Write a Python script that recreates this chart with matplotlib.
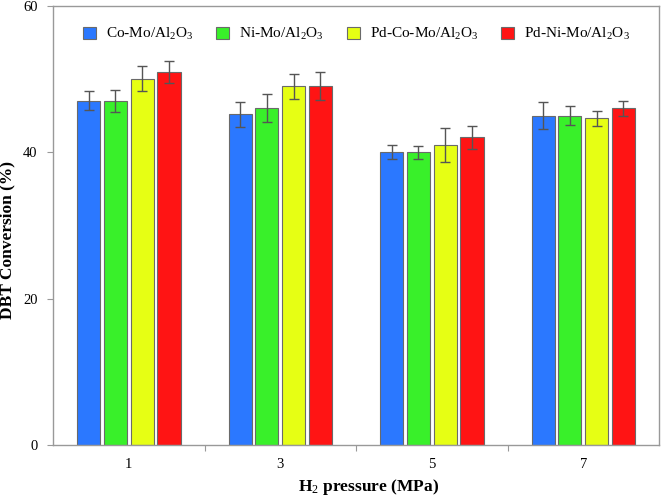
import matplotlib
matplotlib.use("Agg")
import matplotlib.pyplot as plt
import numpy as np

categories = ["1", "3", "5", "7"]
series_names = ["Co-Mo/Al$_2$O$_3$", "Ni-Mo/Al$_2$O$_3$", "Pd-Co-Mo/Al$_2$O$_3$", "Pd-Ni-Mo/Al$_2$O$_3$"]
co_mo = [47.0, 45.2, 40.0, 45.0]
ni_mo = [47.0, 46.0, 40.0, 45.0]
pd_co_mo = [50.0, 49.0, 41.0, 44.6]
pd_ni_mo = [51.0, 49.0, 42.0, 46.0]
co_mo_err = [1.3, 1.7, 1.0, 1.8]
ni_mo_err = [1.5, 1.9, 0.9, 1.3]
pd_co_mo_err = [1.7, 1.7, 2.3, 1.0]
pd_ni_mo_err = [1.5, 1.9, 1.6, 1.0]
colors = ["#2b78ff", "#39f02a", "#e6ff14", "#ff1414"]

plt.rcParams['font.family'] = ['Liberation Serif', 'DejaVu Serif']
plt.rcParams['mathtext.fontset'] = 'custom'
plt.rcParams['mathtext.rm'] = 'Liberation Serif'
plt.rcParams['mathtext.it'] = 'Liberation Serif:italic'
plt.rcParams['mathtext.bf'] = 'Liberation Serif:bold'

fig = plt.figure(figsize=(6.61, 4.96), dpi=100)
ax = fig.add_axes([0.0802, 0.1028, 0.9168, 0.8857])

x = np.arange(len(categories))
vals = [co_mo, ni_mo, pd_co_mo, pd_ni_mo]
errs = [co_mo_err, ni_mo_err, pd_co_mo_err, pd_ni_mo_err]
step = 0.177
width = 0.152
for i, (v, e, c, n) in enumerate(zip(vals, errs, colors, series_names)):
    ax.bar(x + (i - 1.5) * step, v, width, color=c, edgecolor="#6a6a6a", linewidth=0.8,
           yerr=e, capsize=3.5, error_kw=dict(ecolor="#555555", elinewidth=1.0, capthick=1.0),
           label=n, zorder=2)

ax.set_xlim(-0.5, 3.5)
ax.set_ylim(0, 60)
ax.set_yticks([0, 20, 40, 60])
ax.tick_params(axis='y', direction='out', length=4, color="#999999", labelsize=10.5, pad=7)
ax.set_xticks([0.5, 1.5, 2.5])
ax.set_xticklabels([])
ax.set_xticks(x, minor=True)
ax.set_xticklabels(categories, minor=True)
ax.tick_params(axis='x', which='major', direction='out', length=4, color="#999999")
ax.tick_params(axis='x', which='minor', length=0, labelsize=10.5, pad=9)
for s in ax.spines.values():
    s.set_color("#999999")
    s.set_linewidth(1.0)

ax.set_xlabel("H$_2$ pressure (MPa)", fontsize=12.5, fontweight='bold')
ax.xaxis.set_label_coords(0.521, -0.072)
ax.set_ylabel("DBT Conversion (%)", fontsize=12.5, fontweight='bold')
ax.yaxis.set_label_coords(-0.062, 0.467)

ax.legend(loc='center', ncol=4, frameon=False, fontsize=11,
          bbox_to_anchor=(0.501, 0.935), handlelength=0.85, handleheight=0.85,
          columnspacing=1.5, handletextpad=0.65)

fig.savefig("out.png", dpi=100)
